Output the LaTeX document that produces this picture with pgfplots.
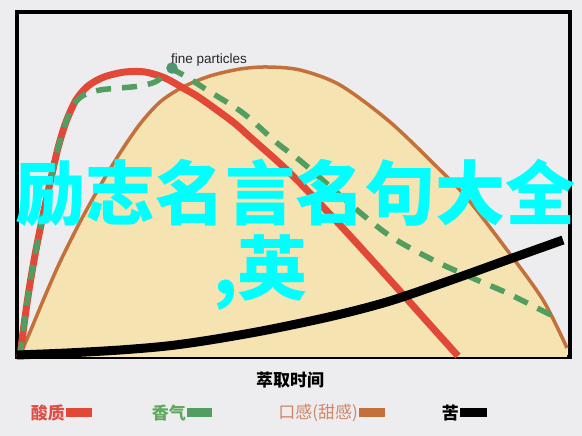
\documentclass[border=0pt]{standalone}
\usepackage{fontspec}
\setmainfont{Liberation Sans}
\newfontfamily\cjk{Noto Sans CJK SC}
\usepackage{pgfplots}
\usepackage{pgfplotstable}
\pgfplotsset{compat=1.18}

\definecolor{bg}{RGB}{237,237,239}
\definecolor{sour}{RGB}{226,72,56}
\definecolor{aroma}{RGB}{82,158,96}
\definecolor{body}{RGB}{196,112,58}
\definecolor{bodyfill}{RGB}{246,227,178}
\definecolor{sourtxt}{RGB}{222,78,70}
\definecolor{aromatxt}{RGB}{95,170,95}
\definecolor{bodytxt}{RGB}{205,135,105}
\definecolor{markgreen}{RGB}{78,150,112}
\definecolor{aqua}{RGB}{0,255,255}

% sweetness / body
\pgfplotstableread{
x y
3 2
13 25
28 61
43 95
63 135
83 171
103 204
123 233
143 255
166 270
193 281
223 288
250 290
283 287
323 272
373 235
423 187
450 159
490 107
526 57
550 9
}\sweet

% acidity
\pgfplotstableread{
x y
3 0
7 32
12 67
18 102
25 137
33 174
41 209
49 235
59 257
71 271
87 280
108 285
128 285
148 279
166 269
183 259
216 235
233 220
273 184
323 132
373 77
406 40
441 1
}\sour

% aroma
\pgfplotstableread{
x y
3 0
7 32
12 67
18 102
25 137
33 174
41 209
49 235
57 253
67 262
83 267
103 269
123 271
138 275
148 282
155 287
168 281
190 267
226 244
260 214
286 194
340 147
376 119
420 95
460 77
490 64
530 44
536 41
}\aroma

% bitterness
\pgfplotstableread{
x y
0 2
50 4
103 7
150 11
193 17
250 27
316 41
373 56
440 79
490 97
546 117
}\bitter

\begin{document}
\begin{tikzpicture}[x=1pt,y=1pt]
\path[use as bounding box, fill=bg] (0,0) rectangle (582,436);
\begin{axis}[
    at={(17pt,79pt)}, anchor=south west,
    scale only axis, width=553pt, height=345pt,
    xmin=0, xmax=553, ymin=0, ymax=345,
    xtick=\empty, ytick=\empty,
    axis line style={line width=3.8pt, black},
    clip=false,
  ]
  \addplot[draw=none, fill=bodyfill, smooth] table {\sweet} \closedcycle;
  \addplot[body, line width=3.5pt, smooth] table {\sweet};
  \addplot[sour, line width=7pt, smooth] table {\sour};
  \addplot[aroma, line width=5.5pt, dash pattern=on 15pt off 11pt, smooth] table {\aroma};
  \addplot[black, line width=9pt, smooth] table {\bitter};
  \addplot[only marks, mark=*, mark size=5.5pt, markgreen] coordinates {(155,289)};
\end{axis}

\node[anchor=west, text=black!85, font=\fontsize{13.5}{13.5}\selectfont, inner sep=0] at (171,376) {fine particles};

\node[text=aqua, font=\cjk\bfseries\fontsize{70}{70}\selectfont, inner sep=0, anchor=base] at (296,216) {励志名言名句大全};
\node[text=aqua, font=\cjk\bfseries\fontsize{70}{70}\selectfont, inner sep=0, anchor=base east] at (308,141) {,英};

\node[font=\cjk\bfseries\fontsize{17}{17}\selectfont, inner sep=0] at (290,56) {萃取时间};

\node[anchor=east, text=sourtxt, font=\cjk\bfseries\fontsize{17}{17}\selectfont, inner sep=0] at (65,23) {酸质};
\fill[sour] (66,18.5) rectangle (92,27.5);
\node[anchor=east, text=aromatxt, font=\cjk\bfseries\fontsize{17}{17}\selectfont, inner sep=0] at (186,23) {香气};
\fill[aroma] (187,18.5) rectangle (212,27.5);
\node[anchor=east, text=bodytxt, font=\cjk\fontsize{17}{17}\selectfont, inner sep=0] at (358,23) {口感(甜感)};
\fill[body] (359,18.5) rectangle (385,27.5);
\node[anchor=east, text=black, font=\cjk\bfseries\fontsize{17}{17}\selectfont, inner sep=0] at (459,23) {苦};
\fill[black] (460,18.5) rectangle (487,27.5);
\end{tikzpicture}
\end{document}
